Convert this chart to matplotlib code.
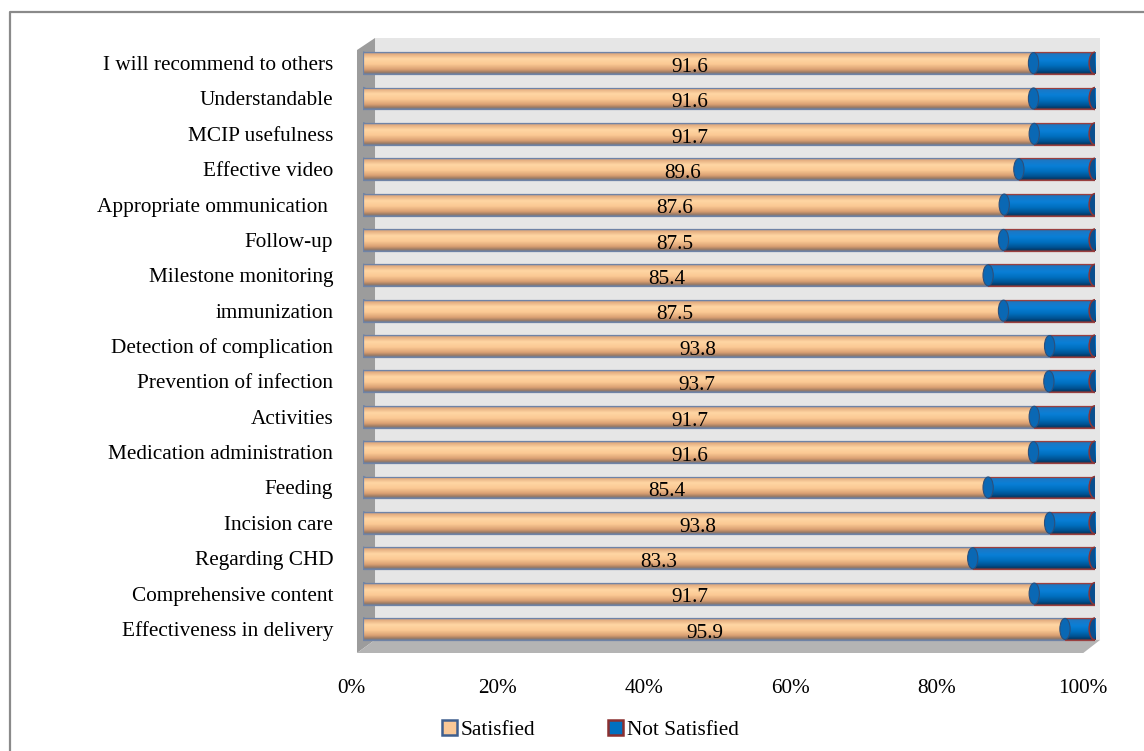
import matplotlib
matplotlib.use("Agg")
import matplotlib.pyplot as plt
import numpy as np
from matplotlib.colors import LinearSegmentedColormap
from matplotlib.patches import Polygon, Ellipse, Patch
from matplotlib.transforms import ScaledTranslation
from matplotlib.lines import Line2D

# Survey items (top to bottom) and share of satisfied respondents (%)
categories = [
    "I will recommend to others",
    "Understandable",
    "MCIP usefulness",
    "Effective video",
    "Appropriate ommunication ",
    "Follow-up",
    "Milestone monitoring",
    "immunization",
    "Detection of complication",
    "Prevention of infection",
    "Activities",
    "Medication administration",
    "Feeding",
    "Incision care",
    "Regarding CHD",
    "Comprehensive content",
    "Effectiveness in delivery",
]
satisfied = [91.6, 91.6, 91.7, 89.6, 87.6, 87.5, 85.4, 87.5, 93.8, 93.7,
             91.7, 91.6, 85.4, 93.8, 83.3, 91.7, 95.9]
not_satisfied = [round(100 - s, 1) for s in satisfied]
xticks = [0, 20, 40, 60, 80, 100]
xtick_labels = ["0%", "20%", "40%", "60%", "80%", "100%"]
series_names = ["Satisfied", "Not Satisfied"]

plt.rcParams["font.family"] = ["Liberation Serif", "DejaVu Serif"]
FS = 15.3

fig = plt.figure(figsize=(11.44, 7.51), dpi=100)
W, H = 1144, 751
x0_px, x1_px = 363, 1095
top_px, bot_px = 38, 653
ax = fig.add_axes([x0_px / W, 1 - bot_px / H, (x1_px - x0_px) / W, (bot_px - top_px) / H])

n = len(categories)
ypos = np.arange(n)[::-1]          # first category on top
bar_h = 0.62
ax.set_xlim(0, 100)
ax.set_ylim(-0.68, 16.71)
for s in ax.spines.values():
    s.set_visible(False)
ax.patch.set_visible(False)

# 3D-style walls and floor
wall_l, wall_r = 1.64, 100.7
ax.add_patch(Polygon([[wall_l, -0.31], [wall_r, -0.31], [wall_r, 16.71], [wall_l, 16.71]],
                     closed=True, facecolor="#e6e6e6", edgecolor="none", zorder=0, clip_on=False))
ax.add_patch(Polygon([[-0.82, -0.68], [wall_l, -0.31], [wall_l, 16.71], [-0.82, 16.37]],
                     closed=True, facecolor="#9c9c9c", edgecolor="none", zorder=0.5, clip_on=False))
ax.add_patch(Polygon([[-0.82, -0.68], [wall_l, -0.31], [wall_r, -0.31], [98.4, -0.68]],
                     closed=True, facecolor="#b4b4b4", edgecolor="none", zorder=0.5, clip_on=False))

# Cylinder shading (top -> bottom across the bar)
peach_cmap = LinearSegmentedColormap.from_list("peach", [
    (0.0, "#8a93a8"), (0.08, "#e3ab7e"), (0.3, "#ffd6a4"), (0.55, "#fbc994"),
    (0.8, "#d99f72"), (0.93, "#9c7a62"), (1.0, "#6e7e98")])
blue_cmap = LinearSegmentedColormap.from_list("blue", [
    (0.0, "#3a5f8a"), (0.1, "#1b78c6"), (0.35, "#0a7fd6"), (0.6, "#0070c0"),
    (0.85, "#00508f"), (0.95, "#003a6a"), (1.0, "#7a3a3a")])
grad = np.linspace(0, 1, 64).reshape(-1, 1)

def draw_series(lefts, widths, cmap, base, edge):
    bars = ax.barh(ypos, widths, left=lefts, height=bar_h, color=base,
                   edgecolor="none", zorder=2)
    for p in bars.patches:
        x, y, w, h = p.get_x(), p.get_y(), p.get_width(), p.get_height()
        im = ax.imshow(grad, cmap=cmap, aspect="auto", origin="upper",
                       extent=(x, x + w, y, y + h), zorder=3, interpolation="bilinear")
        im.set_clip_path(p)
    ax.barh(ypos, widths, left=lefts, height=bar_h, facecolor="none",
            edgecolor=edge, linewidth=0.9, zorder=4)
    return bars

# rounded left ends of the cylinders
for y in ypos:
    ax.add_patch(Ellipse((0.0, y), 1.6, bar_h, facecolor="#e8b184",
                         edgecolor="#6d84a8", linewidth=1.0, zorder=1.9))

draw_series([0] * n, satisfied, peach_cmap, "#f9c796", "#6f83a6")
draw_series(satisfied, not_satisfied, blue_cmap, "#0070c0", "#9a4040")

# seam between the two segments and right end caps
for y, s, ns in zip(ypos, satisfied, not_satisfied):
    ax.add_patch(Ellipse((s, y), 1.4, bar_h * 0.96, facecolor="#0a68b4",
                         edgecolor="#2d4f7a", linewidth=0.8, zorder=4.5))
    ax.add_patch(Ellipse((s + ns, y), 1.6, bar_h, facecolor="#0a4f8e",
                         edgecolor="#8e3535", linewidth=1.1, zorder=5))
    ax.text(s / 2 - 1.2, y - 0.12, f"{s:.1f}", ha="center", va="center",
            fontsize=FS, color="black", zorder=6)

# axes ticks and labels
ax.set_yticks(ypos)
ax.set_yticklabels(categories, fontsize=FS)
ax.tick_params(axis="y", length=0, pad=21.5)
ax.set_xticks(xticks)
ax.set_xticklabels(xtick_labels, fontsize=FS)
ax.tick_params(axis="x", length=0, pad=19)
shift = ScaledTranslation(-12 / 100, 0, fig.dpi_scale_trans)
for lab in ax.get_xticklabels():
    lab.set_transform(lab.get_transform() + shift)

# legend
handles = [
    Patch(facecolor="#f9c796", edgecolor="#3f5f8f", linewidth=1.8, label=series_names[0]),
    Patch(facecolor="#0070c0", edgecolor="#8b3030", linewidth=1.8, label=series_names[1]),
]
fig.legend(handles=handles, loc="center", bbox_to_anchor=(590 / W, 1 - 730 / H),
           ncol=2, frameon=False, fontsize=FS, handlelength=0.75, handleheight=0.75,
           handletextpad=0.15, columnspacing=3.4)

# outer frame (top and left edges)
fig.add_artist(Line2D([10 / W, 10 / W, 1.0], [0.0, 1 - 12 / H, 1 - 12 / H],
                      transform=fig.transFigure, color="#8a8a8a", linewidth=1.6))

fig.savefig("out.png", dpi=100)
